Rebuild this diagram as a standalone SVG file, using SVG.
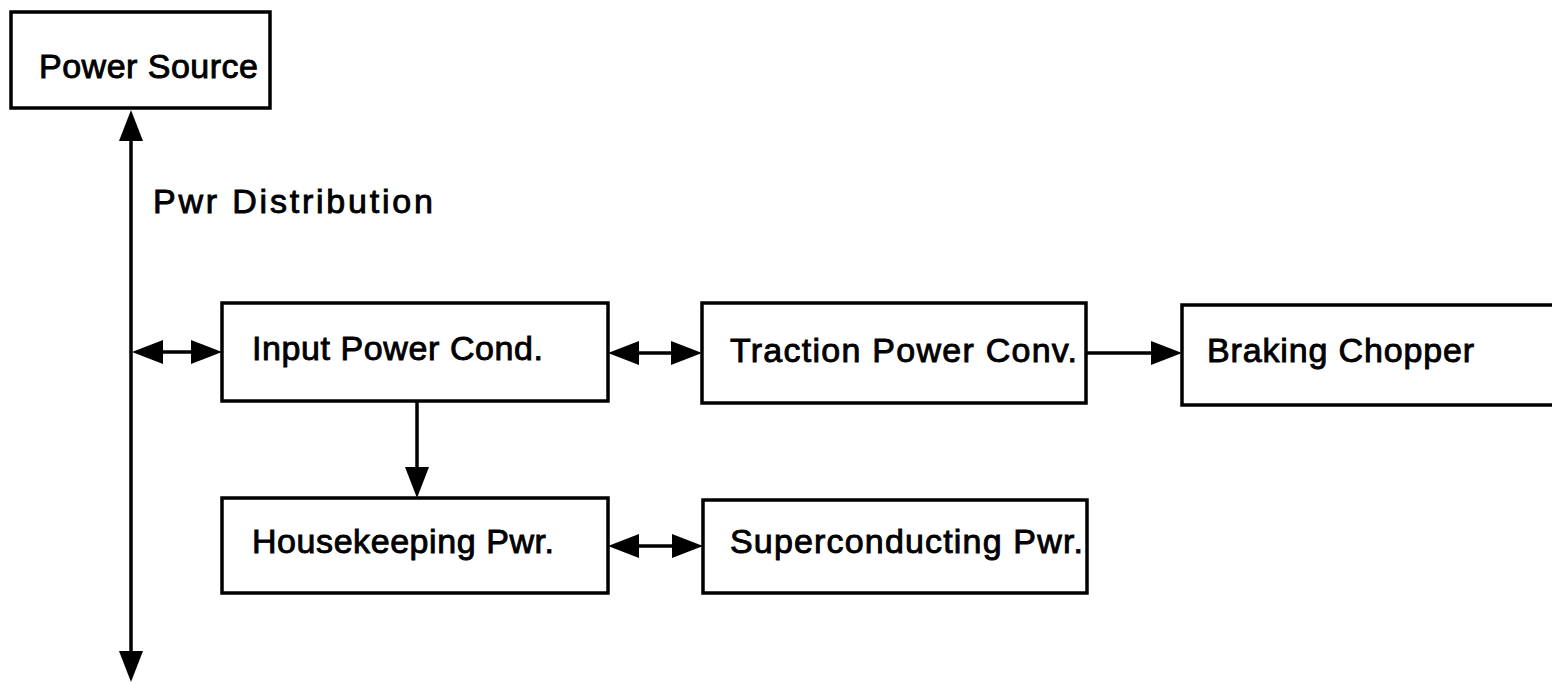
<svg xmlns="http://www.w3.org/2000/svg" width="1552" height="683" viewBox="0 0 1552 683">
<style>
.box{fill:#fff;stroke:#000;stroke-width:3.5}
.lbl{font-family:"Liberation Sans",Arial,sans-serif;font-size:34px;fill:#000;stroke:#000;stroke-width:0.9}
.ln{stroke:#000;stroke-width:3.5;fill:none}
.one{marker-end:url(#ah)}
.two{marker-start:url(#ah);marker-end:url(#ah)}
</style>
<defs>
<marker id="ah" markerUnits="userSpaceOnUse" markerWidth="32" markerHeight="25" viewBox="0 0 32 25" refX="26" refY="12.5" orient="auto-start-reverse">
<path d="M0,0.5 L31,12.5 L0,24.5 z" fill="#000"/>
</marker>
</defs>
<rect width="1552" height="683" fill="#fff"/>
<g id="connectors">
<line class="ln two" x1="131" y1="115" x2="131" y2="677"/>
<line class="ln two" x1="137" y1="352" x2="217" y2="352"/>
<line class="ln two" x1="613" y1="353" x2="697" y2="353"/>
<line class="ln one" x1="1086" y1="353" x2="1177" y2="353"/>
<line class="ln one" x1="417" y1="401" x2="417" y2="493"/>
<line class="ln two" x1="613" y1="546" x2="698" y2="546"/>
</g>
<g id="power-source">
<rect class="box" x="11" y="12" width="259" height="96"/>
<text class="lbl" x="39" y="78" textLength="219" lengthAdjust="spacing">Power Source</text>
</g>
<g id="pwr-distribution">
<text class="lbl" x="153" y="213" textLength="280" lengthAdjust="spacing">Pwr Distribution</text>
</g>
<g id="input-power-cond">
<rect class="box" x="222" y="303" width="386" height="98"/>
<text class="lbl" x="252" y="360" textLength="291" lengthAdjust="spacing">Input Power Cond.</text>
</g>
<g id="traction-power-conv">
<rect class="box" x="702" y="303" width="384" height="100"/>
<text class="lbl" x="730" y="362" textLength="347" lengthAdjust="spacing">Traction Power Conv.</text>
</g>
<g id="braking-chopper">
<rect class="box" x="1182" y="305" width="380" height="100"/>
<text class="lbl" x="1207" y="362" textLength="267" lengthAdjust="spacing">Braking Chopper</text>
</g>
<g id="housekeeping-pwr">
<rect class="box" x="222" y="498" width="386" height="95"/>
<text class="lbl" x="252" y="553" textLength="302" lengthAdjust="spacing">Housekeeping Pwr.</text>
</g>
<g id="superconducting-pwr">
<rect class="box" x="703" y="500" width="384" height="93"/>
<text class="lbl" x="730" y="553" textLength="353" lengthAdjust="spacing">Superconducting Pwr.</text>
</g>
</svg>
